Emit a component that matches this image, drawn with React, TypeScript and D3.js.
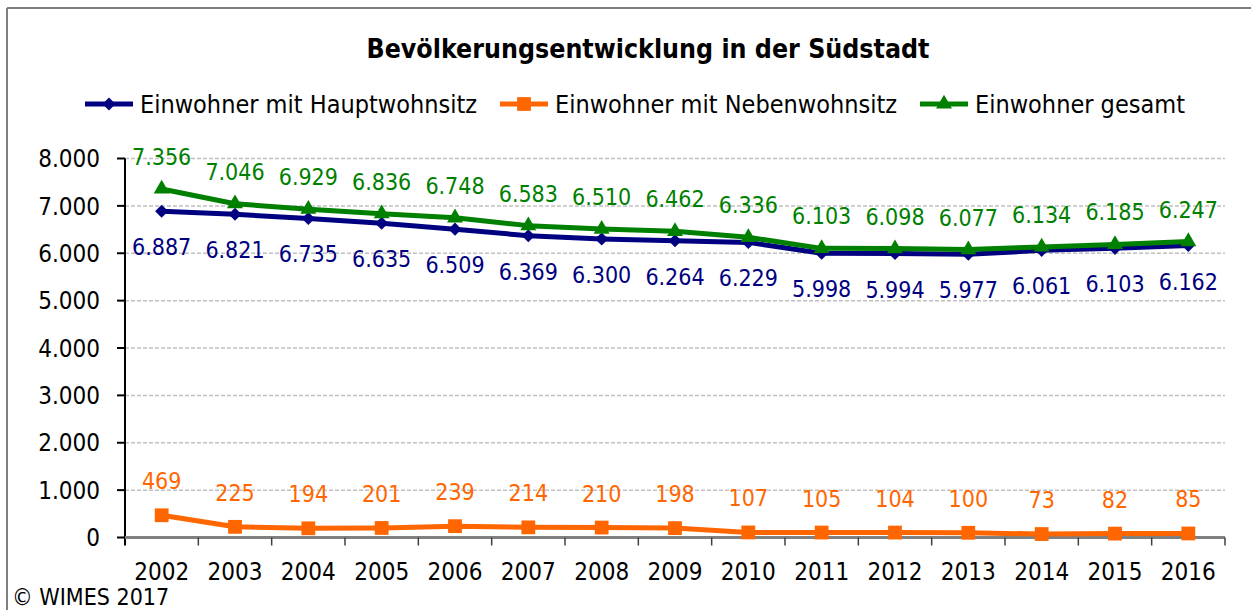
import React from "react";
import * as d3 from "d3";

const years = ["2002", "2003", "2004", "2005", "2006", "2007", "2008", "2009", "2010", "2011", "2012", "2013", "2014", "2015", "2016"];
const haupt = [6887, 6821, 6735, 6635, 6509, 6369, 6300, 6264, 6229, 5998, 5994, 5977, 6061, 6103, 6162];
const neben = [469, 225, 194, 201, 239, 214, 210, 198, 107, 105, 104, 100, 73, 82, 85];
const gesamt = [7356, 7046, 6929, 6836, 6748, 6583, 6510, 6462, 6336, 6103, 6098, 6077, 6134, 6185, 6247];
const yTicks = [0, 1000, 2000, 3000, 4000, 5000, 6000, 7000, 8000];

const W = 1251;
const H = 610;
const margin = { top: 158.5, right: 26, bottom: 72.5, left: 125 };
const FONT = "'DejaVu Sans Condensed', 'DejaVu Sans', sans-serif";

const fmt = (v: number) => d3.format(",")(v).replace(/,/g, ".");

const App = () => {
  const x = d3
    .scaleBand<string>()
    .domain(years)
    .range([margin.left, W - margin.right]);
  const cx = (i: number) => (x(years[i]) as number) + x.bandwidth() / 2;
  const y = d3.scaleLinear().domain([0, 8000]).range([H - margin.bottom, margin.top]);
  const y0 = y(0);

  const line = d3
    .line<number>()
    .x((_, i) => cx(i))
    .y((d) => y(d));

  const diamond = d3.symbol(d3.symbolSquare, 85)() as string;
  const square = d3.symbol(d3.symbolSquare, 190)() as string;
  const triangle = d3.symbol(d3.symbolTriangle, 110)() as string;

  const series = [
    { name: "Einwohner mit Hauptwohnsitz", data: haupt, color: "#000080", label: "#000080", marker: diamond, rot: 45, dy: 44, lx: 85 },
    { name: "Einwohner mit Nebenwohnsitz", data: neben, color: "#FF6600", label: "#FF6600", marker: square, rot: 0, dy: -26, lx: 500 },
    { name: "Einwohner gesamt", data: gesamt, color: "#008000", label: "#008000", marker: triangle, rot: 0, dy: -24, lx: 920 },
  ];

  return (
    <div style={{ position: "absolute", left: 0, top: 0 }}>
      <svg width={W} height={H} style={{ display: "block", background: "#fff" }} fontFamily={FONT} fontStretch="condensed">
        {/* frame (only left and top visible) */}
        <line x1={7} x2={7} y1={8} y2={H} stroke="#7f7f7f" strokeWidth={2} />
        <line x1={7} x2={W} y1={8} y2={8} stroke="#7f7f7f" strokeWidth={2} />

        <text x={648} y={58} textAnchor="middle" fontSize={26.5} fontWeight="bold" fill="#000">
          Bevölkerungsentwicklung in der Südstadt
        </text>

        {/* legend */}
        {series.map((s) => (
          <g key={s.name}>
            <line x1={s.lx} x2={s.lx + 48} y1={104} y2={104} stroke={s.color} strokeWidth={5} />
            <path d={s.marker} transform={`translate(${s.lx + 24},104) rotate(${s.rot})`} fill={s.color} />
            <text x={s.lx + 55} y={113} fontSize={25} fill="#000">
              {s.name}
            </text>
          </g>
        ))}

        {/* grid */}
        {yTicks.slice(1).map((t) => (
          <line key={t} x1={margin.left} x2={W - margin.right} y1={y(t)} y2={y(t)} stroke="#c0c0c0" strokeWidth={1.5} strokeDasharray="4,2" />
        ))}

        {/* y axis */}
        <line x1={margin.left} x2={margin.left} y1={margin.top} y2={y0 + 8} stroke="#000" strokeWidth={2} />
        {yTicks.map((t) => (
          <g key={t}>
            <line x1={margin.left - 8} x2={margin.left} y1={y(t)} y2={y(t)} stroke="#000" strokeWidth={2} />
            <text x={100} y={y(t)} dy="0.36em" textAnchor="end" fontSize={24} fill="#000">
              {fmt(t)}
            </text>
          </g>
        ))}

        {/* x axis */}
        <line x1={margin.left} x2={W - margin.right} y1={y0} y2={y0} stroke="#808080" strokeWidth={3} />
        {years.map((yr, i) => (
          <g key={yr}>
            <line x1={(x(yr) as number) + x.bandwidth()} x2={(x(yr) as number) + x.bandwidth()} y1={y0} y2={y0 + 8} stroke="#404040" strokeWidth={1.5} />
            <text x={cx(i)} y={580} textAnchor="middle" fontSize={24} fill="#000">
              {yr}
            </text>
          </g>
        ))}

        {/* series */}
        {series.map((s) => (
          <g key={s.name}>
            <path d={line(s.data) as string} fill="none" stroke={s.color} strokeWidth={5} strokeLinejoin="round" />
            {s.data.map((v, i) => (
              <path key={i} d={s.marker} transform={`translate(${cx(i)},${y(v)}) rotate(${s.rot})`} fill={s.color} />
            ))}
            {s.data.map((v, i) => (
              <text key={"l" + i} x={cx(i)} y={y(v) + s.dy} textAnchor="middle" fontSize={23} fill={s.label}>
                {fmt(v)}
              </text>
            ))}
          </g>
        ))}

        <text x={12} y={605} fontSize={23} fill="#000">
          © WIMES 2017
        </text>
      </svg>
    </div>
  );
};

export default App;
